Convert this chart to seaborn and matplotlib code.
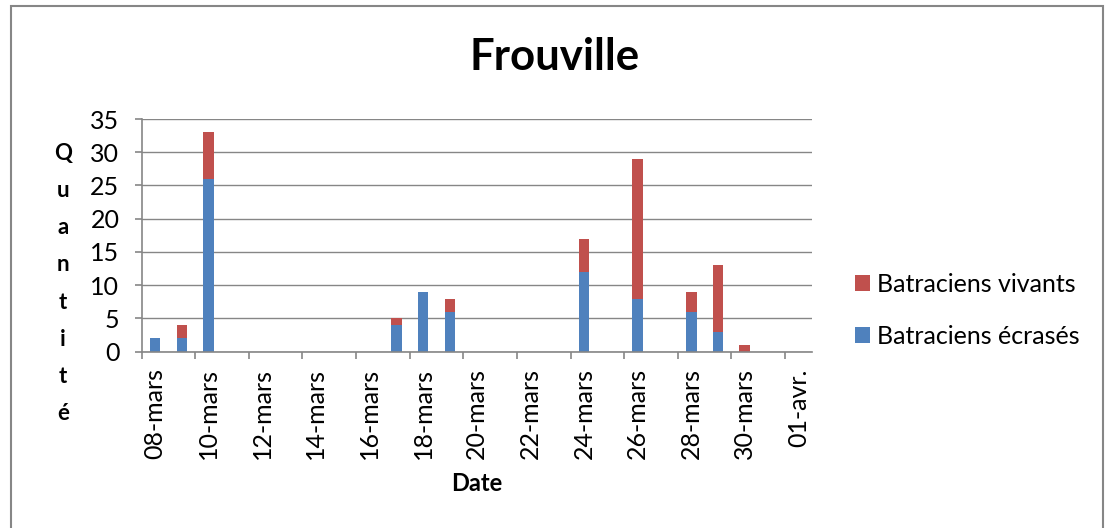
import numpy as np
import pandas as pd
import matplotlib
matplotlib.use("Agg")
import matplotlib.pyplot as plt
import seaborn as sns
from matplotlib.patches import Rectangle
from matplotlib.ticker import NullFormatter

# ---- data ----
dates = ["2013-03-08", "2013-03-09", "2013-03-10", "2013-03-17", "2013-03-18",
         "2013-03-19", "2013-03-24", "2013-03-26", "2013-03-28", "2013-03-29",
         "2013-03-30"]
ecrases = [2, 2, 26, 4, 9, 6, 12, 8, 6, 3, 0]
vivants = [0, 2, 7, 1, 0, 2, 5, 21, 3, 10, 1]
tick_labels = ["08-mars", "10-mars", "12-mars", "14-mars", "16-mars", "18-mars",
               "20-mars", "22-mars", "24-mars", "26-mars", "28-mars", "30-mars",
               "01-avr."]
start_date = "2013-03-08"
end_date = "2013-04-01"
y_ticks = [0, 5, 10, 15, 20, 25, 30, 35]

BLUE = "#4F81BD"
RED = "#C0504D"
GREY = "#868686"

sns.set_theme(style="white")
plt.rcParams["font.family"] = ["Lato", "DejaVu Sans"]
for k in ["text.color", "axes.labelcolor", "xtick.labelcolor", "ytick.labelcolor"]:
    plt.rcParams[k] = "black"

df = pd.DataFrame({"date": pd.to_datetime(dates), "ecrases": ecrases, "vivants": vivants})
df["jour"] = (df["date"] - pd.Timestamp(start_date)).dt.days
df["total"] = df["ecrases"] + df["vivants"]
ndays = (pd.Timestamp(end_date) - pd.Timestamp(start_date)).days

fig = plt.figure(figsize=(11.12, 5.28), dpi=100)
fig.patch.set_facecolor("white")
ax = fig.add_axes([0.1274, 0.3339, 0.6026, 0.4407])

sns.barplot(data=df, x="jour", y="total", native_scale=True, width=0.4, color=RED,
            saturation=1, label="Batraciens vivants", errorbar=None, linewidth=0, ax=ax)
sns.barplot(data=df, x="jour", y="ecrases", native_scale=True, width=0.4, color=BLUE,
            saturation=1, label="Batraciens écrasés", errorbar=None, linewidth=0, ax=ax)

ax.set_xlim(-0.5, ndays + 0.5)
ax.set_ylim(0, 35)
ax.set_yticks(y_ticks)
ax.set_xticks(np.arange(-0.5, ndays, 2))
ax.xaxis.set_major_formatter(NullFormatter())
ax.set_xticks(np.arange(0, ndays + 1, 2), tick_labels, minor=True, rotation=90)
ax.set_xlabel("")
ax.set_ylabel("")

ax.yaxis.grid(True, color=GREY, linewidth=1.0)
ax.set_axisbelow(True)
for s in ["top", "right"]:
    ax.spines[s].set_visible(False)
for s in ["left", "bottom"]:
    ax.spines[s].set_color(GREY)
    ax.spines[s].set_linewidth(1.2)

ax.tick_params(axis="y", length=5, width=1.2, color=GREY, labelsize=18, pad=11,
               left=True, labelcolor="black")
ax.tick_params(axis="x", which="major", length=5, width=1.2, color=GREY, bottom=True)
ax.tick_params(axis="x", which="minor", length=0, labelsize=18, pad=12, labelcolor="black")

handles, labels = ax.get_legend_handles_labels()
leg = ax.legend(handles, labels, loc="center left",
                bbox_to_anchor=(855 / 1112, 0.412), bbox_transform=fig.transFigure,
                frameon=False, fontsize=18, handlelength=0.58, handleheight=0.58,
                handletextpad=0.3, labelspacing=1.15, borderpad=0, borderaxespad=0)

fig.text(0.499, 0.892, "Frouville", ha="center", va="center", fontsize=31.5,
         fontweight="bold", color="black")
fig.text(0.429, 0.0852, "Date", ha="center", va="center", fontsize=17,
         fontweight="bold", color="black")
fig.text(0.0567, 0.463, "\n".join("Quantité"), ha="center", va="center",
         fontsize=16, fontweight="bold", linespacing=1.95, color="black")

fig.patches.append(Rectangle((11 / 1112, -0.02), (1103 - 11) / 1112, 1 - 6 / 528 + 0.02,
                             transform=fig.transFigure, fill=False, edgecolor=GREY,
                             linewidth=1.5))

fig.savefig("out.png", dpi=100)
